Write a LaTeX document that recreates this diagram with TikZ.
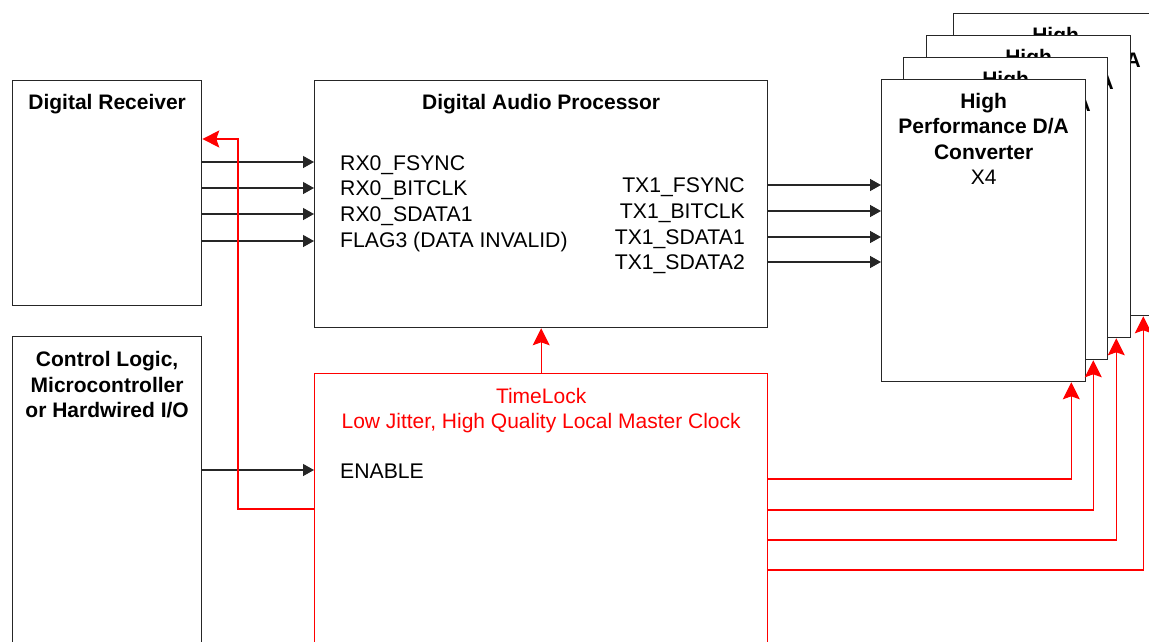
\documentclass[tikz,border=0pt]{standalone}
\usepackage{fontspec}
\setmainfont{Liberation Sans}
\usetikzlibrary{arrows.meta,positioning,calc}

\begin{document}
\begin{tikzpicture}[x=1pt, y=-1pt,
    box/.style={draw=black!85, line width=1.3pt, fill=white, inner sep=0pt, anchor=north west},
    title/.style={font=\fontsize{21}{25.5}\selectfont\bfseries, align=center, inner sep=0pt, anchor=north},
    pin/.style={font=\fontsize{21.2}{25}\selectfont, inner sep=0pt, text height=15pt, text depth=0pt},
    sig/.style={draw=black!85, line width=1.3pt, -{Triangle[length=11pt,width=12pt]}},
    clk/.style={draw=red, line width=1.2pt, -{Stealth[length=17pt,width=17pt,inset=3pt]}}]
    \useasboundingbox (0,0) rectangle (1149,642);
    \clip (0,0) rectangle (1149,642);

    % Receiver and control blocks
    \node[box, minimum width=189pt, minimum height=225pt] (rcv) at (12,80) {};
    \node[title] (rcvtxt) at ($(rcv.north)+(0,14)$) {Digital Receiver};
    \node[box, minimum width=189pt, minimum height=320pt] (ctl) at (12,336) {};
    \node[title] (ctltxt) at ($(ctl.north)+(0,15.5)$) {Control Logic,\\Microcontroller\\or Hardwired I/O};

    % Processor
    \node[box, minimum width=453pt, minimum height=247pt] (dap) at (314,80) {};
    \node[title] (daptxt) at ($(dap.north)+(0,14)$) {Digital Audio Processor};
    \node[pin, anchor=west] (rxfs) at (340,163) {RX0\_FSYNC};
    \node[pin, anchor=west] (rxbc) at (340,188) {RX0\_BITCLK};
    \node[pin, anchor=west] (rxsd) at (340,214) {RX0\_SDATA1};
    \node[pin, anchor=west] (flag) at (340,240) {FLAG3 (DATA INVALID)};
    \node[pin, anchor=east] (txfs) at (745,185) {TX1\_FSYNC};
    \node[pin, anchor=east] (txbc) at (745,211) {TX1\_BITCLK};
    \node[pin, anchor=east] (txsd1) at (745,237) {TX1\_SDATA1};
    \node[pin, anchor=east] (txsd2) at (745,262) {TX1\_SDATA2};

    % Clock
    \node[box, draw=red, minimum width=453pt, minimum height=300pt] (tl) at (314,373) {};
    \node[title, font=\fontsize{21}{25}\selectfont, text=red] (tltxt) at ($(tl.north)+(0,15.5)$) {TimeLock\\Low Jitter, High Quality Local Master Clock};
    \node[pin, anchor=west] (enable) at (340,471) {ENABLE};

    % D/A converter stack
    \foreach \i/\px/\py in {4/953/13, 3/926/35, 2/903/57, 1/881/79} {
        \node[box, minimum width=204pt, minimum height=302pt] (dac\i) at (\px,\py) {};
        \node[title] (dactxt\i) at ($(dac\i.north)+(0,14)$) {High\\Performance D/A\\Converter\\\mdseries X4};
    }

    % Signals
    \foreach \y in {162,188,214,241}
        \draw[sig] (rcv.east |- 0,\y) -- (dap.west |- 0,\y);
    \foreach \y in {185,211,237,262}
        \draw[sig] (dap.east |- 0,\y) -- (dac1.west |- 0,\y);
    \draw[sig] (ctl.east |- 0,470) -- (tl.west |- 0,470);

    % Clock lines
    \draw[clk] (tl.north) -- (dap.south);
    \draw[clk] (tl.west |- 0,509) -| (238,139) -- (rcv.east |- 0,139);
    \foreach \i/\y in {1/479, 2/510, 3/540, 4/570}
        \draw[clk] (tl.east |- 0,\y) -| ([xshift=-15pt]dac\i.south east);
\end{tikzpicture}
\end{document}
